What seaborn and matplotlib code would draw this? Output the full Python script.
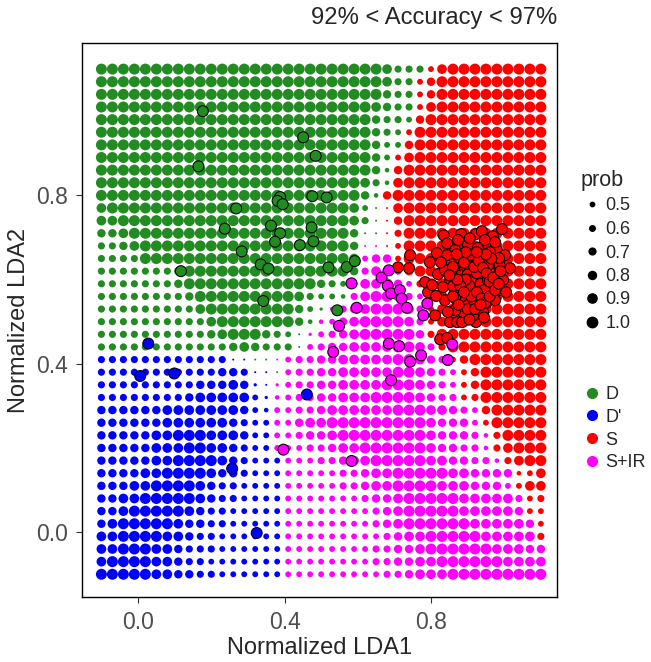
import matplotlib
matplotlib.use("Agg")
import matplotlib.pyplot as plt
from matplotlib.lines import Line2D
import numpy as np
import pandas as pd
import seaborn as sns

# ---------------------------------------------------------------------------
# Classifier decision grid: 41 x 41 cells over LDA1/LDA2 in [-0.1, 1.1].
# Rows run from LDA2 = 1.1 (top) down to LDA2 = -0.1 (bottom).
# Class codes: G = D, B = D', R = S, M = S+IR
# Probability digits: d -> prob = (d + 1) / 10
# ---------------------------------------------------------------------------
class_rows = [
    "GGGGGGGGGGGGGGGGGGGGGGGGGGGGGGRRRRRRRRRRR",
    "GGGGGGGGGGGGGGGGGGGGGGGGGGGGGRRRRRRRRRRRR",
    "GGGGGGGGGGGGGGGGGGGGGGGGGGGGGRRRRRRRRRRRR",
    "GGGGGGGGGGGGGGGGGGGGGGGGGGGGGRRRRRRRRRRRR",
    "GGGGGGGGGGGGGGGGGGGGGGGGGGGGGRRRRRRRRRRRR",
    "GGGGGGGGGGGGGGGGGGGGGGGGGGGGRRRRRRRRRRRRR",
    "GGGGGGGGGGGGGGGGGGGGGGGGGGGGRRRRRRRRRRRRR",
    "GGGGGGGGGGGGGGGGGGGGGGGGGGGRRRRRRRRRRRRRR",
    "GGGGGGGGGGGGGGGGGGGGGGGGGGGRRRRRRRRRRRRRR",
    "GGGGGGGGGGGGGGGGGGGGGGGGGGGRRRRRRRRRRRRRR",
    "GGGGGGGGGGGGGGGGGGGGGGGGGGRRRRRRRRRRRRRRR",
    "GGGGGGGGGGGGGGGGGGGGGGGGGGRRRRRRRRRRRRRRR",
    "GGGGGGGGGGGGGGGGGGGGGGGGGGRRRRRRRRRRRRRRR",
    "GGGGGGGGGGGGGGGGGGGGGGGGGGRRRRRRRRRRRRRRR",
    "GGGGGGGGGGGGGGGGGGGGGGGGMMRRRRRRRRRRRRRRR",
    "GGGGGGGGGGGGGGGGGGGGGGGGMMMRRRRRRRRRRRRRR",
    "GGGGGGGGGGGGGGGGGGGGGGGGMMMMRRRRRRRRRRRRR",
    "GGGGGGGGGGGGGGGGGGGGGGGMMMMMMRRRRRRRRRRRR",
    "GGGGGGGGGGGGGGGGGGGGGGGMMMMMMMRRRRRRRRRRR",
    "GGGGGGGGGGGGGGGGGGGGGMMMMMMMMMRRRRRRRRRRR",
    "GGGGGGGGGGGGGGGGGGGGMMMMMMMMMMRRRRRRRRRRR",
    "GGGGGGGGGGGGGGGGGGGMMMMMMMMMMMRRRRRRRRRRR",
    "GGGGGGGGGGGGGGGGGGGMMMMMMMMMMMMRRRRRRRRRR",
    "BBBBBBBBBBBBBBGGMMMMMMMMMMMMMMMMRRRRRRRRR",
    "BBBBBBBBBBBBBBBBGMMMMMMMMMMMMMMMMRRRRRRRR",
    "BBBBBBBBBBBBBBBBMMMMMMMMMMMMMMMMMRRRRRRRR",
    "BBBBBBBBBBBBBBBBMMMMMMMMMMMMMMMMMRRRRRRRR",
    "BBBBBBBBBBBBBBBBMMMMMMMMMMMMMMMMMMMRRRRRR",
    "BBBBBBBBBBBBBBBBMMMMMMMMMMMMMMMMMMMRRRRRR",
    "BBBBBBBBBBBBBBBBMMMMMMMMMMMMMMMMMMMMRRRRR",
    "BBBBBBBBBBBBBBBBMMMMMMMMMMMMMMMMMMMMRRRRR",
    "BBBBBBBBBBBBBBBBBMMMMMMMMMMMMMMMMMMMMRRRR",
    "BBBBBBBBBBBBBBBBBMMMMMMMMMMMMMMMMMMMMMRRR",
    "BBBBBBBBBBBBBBBBBMMMMMMMMMMMMMMMMMMMMMRRR",
    "BBBBBBBBBBBBBBBBBMMMMMMMMMMMMMMMMMMMMMMRR",
    "BBBBBBBBBBBBBBBBBMMMMMMMMMMMMMMMMMMMMMMRR",
    "BBBBBBBBBBBBBBBBBMMMMMMMMMMMMMMMMMMMMMMMR",
    "BBBBBBBBBBBBBBBBBMMMMMMMMMMMMMMMMMMMMMMMR",
    "BBBBBBBBBBBBBBBBBMMMMMMMMMMMMMMMMMMMMMMMM",
    "BBBBBBBBBBBBBBBBBMMMMMMMMMMMMMMMMMMMMMMMM",
    "BBBBBBBBBBBBBBBBBMMMMMMMMMMMMMMMMMMMMMMMM",
]

prob_rows = [
    "99999999999999999999999999866658999999999",
    "99999999999999999999999999866579999999999",
    "99999999999999999999999999766579999999999",
    "99999999999999999999999998766589999999999",
    "99999999999999999999999997665799999999999",
    "99999999999999999999999997655999999999999",
    "99999999999999999999999997557999999999999",
    "99999999999999999999999997558999999999999",
    "99999999999999999999999997479999999999999",
    "99999999999999999999999986489999999999999",
    "99999999999999999999999974799999999999999",
    "89999999999999999999999852289999999999999",
    "88999999999999999999999862279999999999999",
    "77899999999999999999999722269999999999999",
    "66789999999999999999999722259999999999999",
    "66669999999999999999999857759999999999999",
    "66666667999999999999999768867999999999999",
    "66666667999999999999765688975699999999999",
    "66666666799999999986554689986569999999999",
    "66666666689999999975346789998658999999999",
    "66666666668999999974457899998658999999999",
    "66666666667899976523567899999769999999999",
    "66666666666678766625677888899866999999999",
    "66666666666622222566778888899876579999999",
    "66666666666776222566778888899876557999999",
    "66666666677787323566778888999876557999999",
    "66666666788888534566778889999876656999999",
    "77777788888887545566788888899988765799999",
    "77777788888876555578899999999987775599999",
    "77777889998887555567789999999987776469999",
    "77777888998876555556678899999987766468999",
    "77777889999876555555667889999988776646899",
    "77778899998776555555556678899999887777458",
    "77788999987665555555556678899998887775588",
    "77889999987665555555555567789999988888656",
    "77899999876655555555555556789999988888755",
    "78999998776655555555555556789999998888875",
    "88999988766555555555555555678899999888886",
    "88999887666555555555555556677899999988877",
    "89999887665555555555555556677889999998888",
    "99999887766555555555555555667888999999999",
]

class_names = {"G": "D", "B": "D'", "R": "S", "M": "S+IR"}
class_order = ["D", "D'", "S", "S+IR"]
palette = {"D": "#228B22", "D'": "#0000FF", "S": "#FF0000", "S+IR": "#FF00FF"}

grid_ticks = np.round(np.linspace(-0.1, 1.1, 41), 2)

# ---------------------------------------------------------------------------
# Observed samples (normalized LDA scores) and their labels
# ---------------------------------------------------------------------------
d_lda1 = [0.177, 0.165, 0.268, 0.237, 0.451, 0.485, 0.388, 0.381, 0.395,
          0.476, 0.515, 0.363, 0.474, 0.388, 0.283, 0.117, 0.374, 0.442,
          0.479, 0.335, 0.356, 0.520, 0.570, 0.592, 0.342, 0.544]
d_lda2 = [1.000, 0.869, 0.769, 0.721, 0.938, 0.894, 0.796, 0.787, 0.779,
          0.798, 0.795, 0.728, 0.724, 0.710, 0.667, 0.620, 0.690, 0.682,
          0.691, 0.636, 0.626, 0.629, 0.630, 0.644, 0.549, 0.527]

dp_lda1 = [0.028, 0.006, 0.099, 0.461, 0.257, 0.324]
dp_lda2 = [0.448, 0.371, 0.377, 0.327, 0.151, -0.002]

s_lda1 = [0.835, 0.882, 0.923, 0.939, 0.994, 0.969, 0.743, 0.710, 0.740,
          0.816, 0.819, 0.792, 0.811, 0.825, 0.844, 0.852, 0.871, 0.885,
          0.923, 0.844, 0.866, 0.901, 0.928, 0.956, 0.980, 1.002, 0.857,
          0.879, 0.912, 0.947, 0.967, 0.988, 0.838, 0.866, 0.893, 0.920,
          0.939, 0.961, 0.983, 0.852, 0.879, 0.906, 0.928, 0.950, 0.972,
          0.866, 0.893, 0.912, 0.934, 0.961, 0.838, 0.874, 0.901, 0.928,
          0.953, 0.887, 0.915, 0.942, 0.866, 0.833, 0.814, 0.988, 0.997,
          0.906, 0.934, 0.896, 0.917, 0.945, 0.885, 0.860, 0.961, 1.016,
          1.005, 0.844, 0.827, 0.874, 0.906, 0.947, 0.975, 0.797, 0.784,
          0.803, 0.906, 0.923, 0.956, 0.882, 0.866, 0.846, 0.975, 0.986,
          0.890, 0.900, 0.915, 0.925, 0.935, 0.945, 0.955, 0.905, 0.918,
          0.930, 0.942, 0.952, 0.960, 0.970, 0.910, 0.925, 0.938, 0.948,
          0.895, 0.880, 0.872, 0.890, 0.900, 0.920, 0.935, 0.960, 0.975,
          0.985, 0.965, 0.950, 0.925, 0.895, 0.870, 0.860, 0.850, 0.860,
          0.875, 0.945, 0.905, 0.990]
s_lda2 = [0.705, 0.708, 0.708, 0.715, 0.720, 0.703, 0.658, 0.629, 0.627,
          0.663, 0.613, 0.570, 0.515, 0.458, 0.461, 0.499, 0.499, 0.499,
          0.499, 0.686, 0.670, 0.682, 0.675, 0.684, 0.670, 0.658, 0.641,
          0.651, 0.651, 0.658, 0.641, 0.634, 0.622, 0.618, 0.627, 0.634,
          0.622, 0.618, 0.610, 0.594, 0.599, 0.603, 0.594, 0.587, 0.591,
          0.570, 0.575, 0.570, 0.563, 0.568, 0.551, 0.546, 0.544, 0.539,
          0.546, 0.523, 0.515, 0.523, 0.527, 0.582, 0.561, 0.575, 0.599,
          0.658, 0.646, 0.587, 0.551, 0.603, 0.561, 0.584, 0.665, 0.627,
          0.570, 0.658, 0.641, 0.694, 0.698, 0.694, 0.689, 0.641, 0.594,
          0.587, 0.622, 0.580, 0.634, 0.610, 0.556, 0.523, 0.551, 0.651,
          0.640, 0.612, 0.600, 0.615, 0.590, 0.575, 0.600, 0.585, 0.630,
          0.645, 0.628, 0.615, 0.595, 0.605, 0.560, 0.570, 0.555, 0.545,
          0.600, 0.585, 0.600, 0.570, 0.530, 0.530, 0.540, 0.560, 0.575,
          0.590, 0.650, 0.660, 0.665, 0.665, 0.660, 0.630, 0.610, 0.560,
          0.540, 0.510, 0.505, 0.620]

sir_lda1 = [0.397, 0.583, 0.583, 0.597, 0.549, 0.533, 0.685, 0.691, 0.665,
            0.685, 0.682, 0.691, 0.715, 0.720, 0.734, 0.790, 0.779, 0.713,
            0.743, 0.773, 0.846, 0.858]
sir_lda2 = [0.196, 0.169, 0.591, 0.533, 0.490, 0.428, 0.448, 0.361, 0.605,
            0.622, 0.585, 0.567, 0.575, 0.555, 0.533, 0.543, 0.515, 0.442,
            0.405, 0.420, 0.409, 0.446]

legend_probs = [0.5, 0.6, 0.7, 0.8, 0.9, 1.0]

# ---------------------------------------------------------------------------
for r in class_rows + prob_rows:
    assert len(r) == 41, (r, len(r))
assert len(class_rows) == 41 and len(prob_rows) == 41
assert len(s_lda1) == len(s_lda2) and len(sir_lda1) == len(sir_lda2)

records = []
for j, (crow, prow) in enumerate(zip(class_rows, prob_rows)):
    yv = grid_ticks[40 - j]
    for i, (c, p) in enumerate(zip(crow, prow)):
        records.append((grid_ticks[i], yv, class_names[c], (int(p) + 1) / 10))
grid = pd.DataFrame(records, columns=["LDA1", "LDA2", "class", "prob"])

samples = pd.DataFrame({
    "LDA1": d_lda1 + dp_lda1 + s_lda1 + sir_lda1,
    "LDA2": d_lda2 + dp_lda2 + s_lda2 + sir_lda2,
    "class": (["D"] * len(d_lda1) + ["D'"] * len(dp_lda1)
              + ["S"] * len(s_lda1) + ["S+IR"] * len(sir_lda1)),
})


def dot_diameter_px(p):
    return 2.0 + 9.0 * (p - 0.3) / 0.7


def dot_area(p):
    return (dot_diameter_px(p) * 0.72) ** 2


size_map = {v: dot_area(v) for v in sorted(grid["prob"].unique())}

# ---------------------------------------------------------------------------
sns.set_style("white")
plt.rcParams["font.family"] = ["Liberation Sans", "DejaVu Sans"]

W, H = 651, 662
fig = plt.figure(figsize=(W / 100, H / 100), dpi=100)
ax = fig.add_axes([82 / W, 1 - 597 / H, (557 - 82) / W, (597 - 43) / H])

sns.scatterplot(data=grid, x="LDA1", y="LDA2", hue="class", hue_order=class_order,
                palette=palette, size="prob", sizes=size_map, linewidth=0,
                legend=False, ax=ax, zorder=2)
sns.scatterplot(data=samples, x="LDA1", y="LDA2", hue="class", hue_order=class_order,
                palette=palette, s=62, edgecolor="black", linewidth=0.75,
                legend=False, ax=ax, zorder=3)

ax.set_xlim(-0.153, 1.144)
ax.set_ylim(-0.154, 1.162)
ax.set_xticks([0.0, 0.4, 0.8])
ax.set_yticks([0.0, 0.4, 0.8])
ax.set_xticklabels(["0.0", "0.4", "0.8"])
ax.set_yticklabels(["0.0", "0.4", "0.8"])
ax.tick_params(axis="both", which="major", length=4, width=0.8, color="#333333",
               labelsize=16.5, labelcolor="#4D4D4D", pad=6, direction="out",
               bottom=True, left=True)
for sp in ax.spines.values():
    sp.set_color("black")
    sp.set_linewidth(1.0)
ax.set_xlabel("")
ax.set_ylabel("")

fig.text(320 / W, 1 - 648 / H, "Normalized LDA1", ha="center", va="center", fontsize=17)
fig.text(19 / W, 1 - 320 / H, "Normalized LDA2", ha="center", va="center",
         rotation=90, fontsize=17)
fig.text(557 / W, 1 - 18 / H, "92% < Accuracy < 97%", ha="right", va="center",
         fontsize=17.1)

# size legend
size_handles = [Line2D([], [], marker="o", linestyle="", color="black",
                       markersize=dot_diameter_px(p) * 0.72 * 0.95) for p in legend_probs]
leg1 = fig.legend(size_handles, [f"{p:.1f}" for p in legend_probs], title="prob",
                  loc="upper left", bbox_to_anchor=(581 / W, 1 - 170 / H),
                  frameon=False, fontsize=13, title_fontsize=15.5,
                  handletextpad=0.15, labelspacing=0.36, handlelength=1.2,
                  borderaxespad=0, borderpad=0)
leg1._legend_box.align = "left"

# class legend
class_handles = [Line2D([], [], marker="o", linestyle="", color=palette[c],
                        markersize=7) for c in class_order]
leg2 = fig.legend(class_handles, class_order, loc="upper left",
                  bbox_to_anchor=(581 / W, 1 - 386 / H), frameon=False, fontsize=13,
                  handletextpad=0.15, labelspacing=0.32, handlelength=1.2,
                  borderaxespad=0, borderpad=0)

fig.savefig("out.png", dpi=100)
